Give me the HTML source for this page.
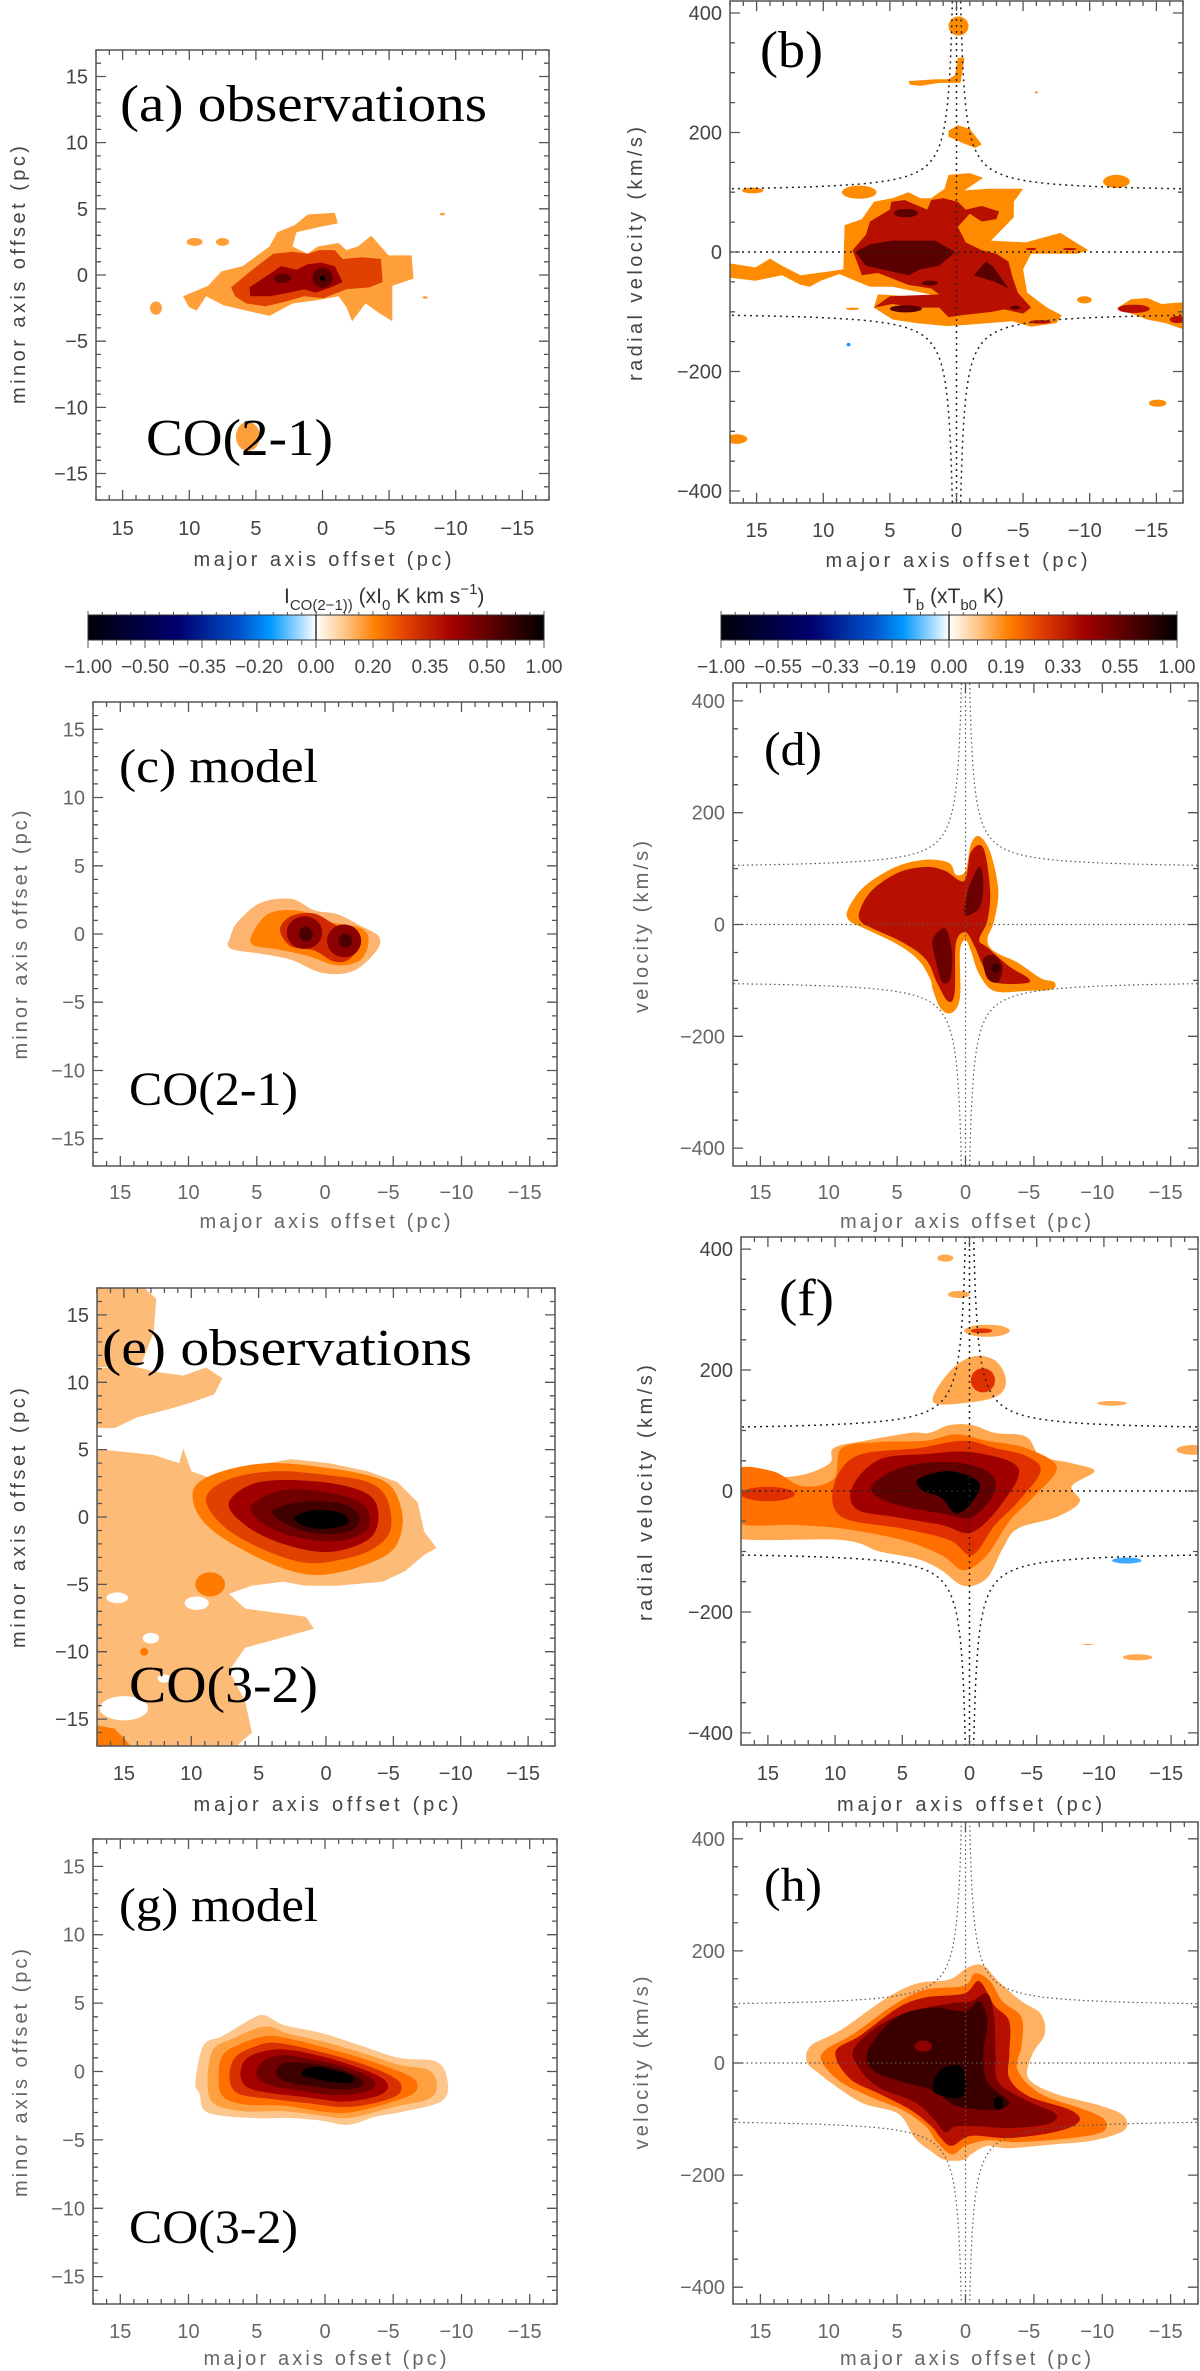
<!DOCTYPE html>
<html><head><meta charset="utf-8"><style>
html,body{margin:0;padding:0;background:#fff;}
svg{display:block;}
text{font-family:"Liberation Sans",sans-serif;}
.ser{font-family:"Liberation Serif",serif;fill:#000;}
</style></head><body>
<svg id="fig" xmlns="http://www.w3.org/2000/svg" width="1200" height="2371" viewBox="0 0 1200 2371">
<defs>
<linearGradient id="cbg" x1="0" x2="1" y1="0" y2="0">
<stop offset="0" stop-color="#000008"/><stop offset="0.2" stop-color="#000070"/><stop offset="0.33" stop-color="#0050c8"/><stop offset="0.4" stop-color="#0098ff"/><stop offset="0.5" stop-color="#ffffff"/><stop offset="0.56" stop-color="#ffc88c"/><stop offset="0.63" stop-color="#ff8000"/><stop offset="0.7" stop-color="#e04000"/><stop offset="0.8" stop-color="#a00000"/><stop offset="0.9" stop-color="#500000"/><stop offset="1" stop-color="#000000"/>
</linearGradient>
</defs>
</svg>
<script>
// ---------- DATA ----------
const xTicks = [15,10,5,0,-5,-10,-15];
const posTicks = [15,10,5,0,-5,-10,-15];
const velTicks = [400,200,0,-200,-400];
const cbLabelsLeft = ["\u22121.00","\u22120.50","\u22120.35","\u22120.20","0.00","0.20","0.35","0.50","1.00"];
const cbLabelsRight = ["\u22121.00","\u22120.55","\u22120.33","\u22120.19","0.00","0.19","0.33","0.55","1.00"];
const guideAsym = 100; // km/s
const guideK = 100;

// panel (a)
const aL1 = [[10.46,-1.61],[8.59,-0.81],[7.58,0.27],[5.99,0.67],[3.98,2.15],[3.40,3.23],[2.10,3.76],[1.10,4.57],[-0.92,4.70],[-1.15,3.90],[0.23,3.63],[1.96,3.23],[2.25,2.15],[1.10,1.61],[0.37,2.15],[-1.21,2.42],[-1.79,1.88],[-2.65,2.15],[-3.66,2.96],[-4.96,1.48],[-6.69,1.48],[-6.83,-0.27],[-5.24,-0.81],[-5.24,-3.49],[-4.38,-2.96],[-3.23,-2.15],[-2.22,-3.49],[-1.79,-2.42],[-1.21,-1.61],[0.23,-1.88],[2.25,-2.15],[3.98,-3.09],[5.71,-2.69],[7.44,-2.28],[8.73,-1.61],[9.45,-2.69],[10.03,-2.42]];
const aL1Blobs = [[9.6,2.5,0.6,0.3],[7.5,2.5,0.5,0.3],[12.5,-2.5,0.45,0.5],[5.6,-12.2,0.9,1.1],[-9.0,4.6,0.2,0.1],[-7.7,-1.7,0.2,0.1]];
const aL2 = [[6.86,-0.94],[5.42,0.27],[3.69,1.61],[2.25,1.75],[1.10,1.61],[0.23,1.88],[-0.92,1.88],[-1.50,1.21],[-2.94,1.34],[-4.38,1.21],[-4.52,-0.54],[-3.52,-0.94],[-1.79,-1.08],[-0.06,-1.75],[1.38,-1.61],[2.82,-2.02],[4.27,-2.37],[5.71,-2.15],[6.57,-1.61]];
const aL3 = [[5.48,-0.94],[4.27,-0.13],[3.11,0.67],[1.96,0.40],[1.10,0.81],[0.09,0.94],[-0.92,0.67],[-1.50,-0.54],[-0.63,-0.94],[0.52,-1.34],[1.38,-1.08],[2.54,-1.34],[3.98,-1.61],[5.42,-1.61]];
const aL4Blobs = [[3.0,-0.25,0.65,0.35],[0.0,-0.2,0.75,0.75]];
const aL5Blobs = [[0.0,-0.25,0.2,0.2]];

// panel (b)
const bL1 = [[17,-19],[15.1,-26],[14.0,-11],[13.1,-23],[11.7,-39],[9.4,-32],[8.5,-29],[8.4,45],[7.1,55],[6.2,84],[4.8,90],[3.6,100],[2.7,90],[1.9,90],[0.9,106],[0.6,129],[-1.0,132],[-2.0,124],[-0.6,103],[-2.4,106],[-5.0,106],[-4.3,84],[-4.3,58],[-2.6,19],[-5.2,16],[-7.8,32],[-9.9,3],[-9.1,-3],[-5.6,-3],[-5.0,-29],[-5.3,-68],[-6.8,-93],[-7.9,-106],[-7.5,-119],[-5.6,-125],[-4.2,-116],[-0.7,-122],[0.7,-124],[3.0,-119],[4.8,-113],[6.2,-93],[5.9,-71],[3.6,-74],[1.3,-74],[4.8,-58],[6.5,-58],[8.8,-37],[10.2,-48],[11.0,-58],[11.7,-55],[13.1,-39],[15.1,-48],[17,-43]];
const bL1Poly1 = [[0.6,203],[-0.1,212],[-1.0,206],[-1.9,180],[-1.4,174],[-0.4,183],[0.6,193]];
const bL1Poly2 = [[3.6,286],[1.6,289],[0.6,289],[0.1,296],[-0.1,325],[-0.6,325],[-0.4,296],[-0.3,283],[1.3,283],[2.7,278],[3.5,280]];
const bL1Poly3 = [[-12.1,-93],[-13.1,-79],[-14.3,-77],[-15.4,-87],[-17,-84],[-17,-129],[-15.7,-119],[-14.3,-113],[-13.1,-103]];
const bL1Blobs = [[15.3,103,0.8,5],[7.3,100,1.3,11],[-0.15,378,0.75,16],[-12.0,118,1.0,11],[-9.6,-80,0.55,6],[-15.1,-253,0.65,6],[16.5,-313,0.8,8],[7.8,-95,0.5,2],[-6.0,267,0.1,2]];
const bL2 = [[7.8,3],[6.8,29],[6.5,51],[5.0,71],[4.9,84],[3.9,87],[2.2,71],[1.9,87],[1.0,90],[-0.1,84],[-0.7,71],[-1.9,77],[-3.2,68],[-3.0,55],[-1.9,51],[-1.0,64],[-0.1,42],[-0.7,16],[-1.9,3],[-3.0,-3],[-3.9,-16],[-4.2,-42],[-4.6,-68],[-5.6,-93],[-5.0,-103],[-3.6,-96],[-2.7,-100],[-0.4,-106],[0.6,-109],[1.3,-93],[3.0,-93],[4.8,-87],[6.2,-93],[5.0,-74],[1.3,-71],[1.9,-61],[3.6,-55],[5.9,-35],[7.1,-39]];
const bL2Blobs = [[-13.3,-95,1.2,7],[-16.6,-113,0.6,6],[-6.3,-117,0.8,3],[-8.5,5,0.5,2],[-5.6,5,0.4,2]];
const bL3 = [[7.6,0],[6.5,13],[4.8,19],[1.6,19],[0.1,0],[1.3,-23],[2.7,-29],[3.6,-39],[5.0,-32],[6.8,-23]];
const bL3Poly = [[-2.2,-16],[-2.7,-23],[-3.3,-42],[-3.9,-61],[-3.0,-51],[-1.3,-39]];
const bL3Blobs = [[3.8,65,0.9,7],[3.8,-95,1.2,6],[2.0,-52,0.6,4],[-4.4,-93,0.4,3]];
const bBlue = [[8.1,-155,0.15,3]];

// panel (c)
const cL1 = [[6.94,-0.22],[6.38,0.90],[4.70,2.29],[2.46,2.57],[0.78,1.73],[-0.90,1.45],[-2.57,0.62],[-3.97,-0.22],[-3.69,-1.34],[-2.01,-2.74],[0.22,-2.85],[2.46,-1.90],[4.70,-1.45],[6.94,-1.06]];
const cL2 = [[5.3,0.06],[4.1,1.5],[1.9,1.7],[-0.3,0.9],[-2.6,0.45],[-3.2,-0.5],[-2.6,-1.9],[-0.9,-2.3],[1.3,-1.6],[3.6,-1.1],[5.3,-0.8]];
const cL3 = [[3.3,0.3],[2.5,1.3],[0.8,1.5],[-0.9,0.6],[-2.3,0.2],[-2.6,-0.8],[-1.7,-1.9],[-0.6,-2.0],[0.8,-1.2],[2.5,-0.9]];
const cL4Blobs = [[1.5,0.1,1.3,1.2],[-1.4,-0.5,1.25,1.2]];
const cL5Blobs = [[1.4,0.0,0.5,0.55],[-1.5,-0.5,0.5,0.5]];

// panel (d)
const dL1 = [[8.6,27],[7.4,68],[5.1,103],[2.9,116],[1.2,110],[0.7,89],[0,96],[-0.4,144],[-1.0,158],[-1.8,130],[-2.4,62],[-2.1,7],[-1.6,-27],[-2.1,-48],[-3.8,-68],[-5.5,-96],[-6.5,-103],[-6.3,-116],[-4.4,-119],[-2.1,-119],[-1.0,-89],[-0.4,-48],[0,-27],[0.4,-48],[0.4,-130],[1.0,-158],[1.8,-151],[2.4,-116],[2.6,-96],[3.5,-62],[5.1,-34],[7.4,-7],[8.5,7]];
const dL2 = [[7.7,27],[6.8,62],[4.9,93],[2.9,103],[1.5,96],[0.1,78],[-0.4,130],[-1.3,137],[-1.8,62],[-1.6,7],[-1.0,-27],[-1.6,-41],[-3.2,-75],[-4.6,-96],[-4.4,-105],[-2.1,-103],[-1.3,-75],[-0.7,-41],[0,-14],[0.7,-34],[0.8,-123],[1.3,-137],[2.1,-103],[2.9,-62],[4.6,-32],[6.8,-7],[7.7,7]];
const dL3a = [[0.1,21],[-0.2,62],[-1.0,103],[-1.3,75],[-1.1,34],[-0.4,18]];
const dL3b = [[2.4,-27],[1.5,-7],[1.0,-48],[1.1,-96],[1.7,-103],[2.2,-62]];
const dL3c = [[-1.3,-62],[-2.1,-55],[-2.7,-75],[-2.4,-103],[-1.6,-96]];
const dL4Blobs = [[-2.2,-78,0.35,8]];

// panel (e)
const eL1a = [[16.8,17.5],[14.0,17.5],[12.6,16.2],[12.8,13.7],[13.7,11.4],[16.8,11.1],[17.5,11.1],[17.5,17.5]];
const eL1b = [[17.5,10.8],[15.1,11.4],[12.8,10.8],[10.6,10.5],[8.9,11.1],[7.7,10.3],[8.3,9.1],[10.0,8.5],[11.7,8.0],[14.0,7.4],[15.7,6.6],[17.5,6.6]];
const eL1c = [[17.5,5.1],[12.8,4.6],[10.9,4.0],[10.6,5.1],[10.0,3.4],[8.3,2.8],[6.0,3.7],[2.6,4.3],[-0.2,4.0],[-3.1,3.4],[-5.3,2.6],[-6.8,1.1],[-7.3,-1.1],[-8.2,-2.3],[-7.3,-2.8],[-5.9,-4.0],[-4.2,-4.8],[-0.8,-5.1],[1.5,-5.1],[3.2,-4.8],[5.5,-5.1],[7.2,-5.7],[6.0,-6.8],[1.5,-7.4],[0.9,-8.3],[3.8,-9.1],[6.0,-9.7],[7.2,-11.4],[6.0,-13.7],[5.5,-16.0],[7.2,-17.5],[17.5,-17.5]];
const eHoles = [[15.5,-6.0,0.8,0.4],[9.6,-6.4,0.9,0.5],[15.0,-14.2,1.8,0.9],[13.0,-9.0,0.6,0.4],[12.0,-12.0,0.5,0.3]];
const eL2 = [[9.7,2.3],[7.7,3.4],[4.3,4.0],[0.3,3.7],[-3.1,3.1],[-4.8,2.3],[-5.6,0.6],[-5.6,-1.1],[-4.8,-2.6],[-2.5,-3.7],[0.3,-4.3],[2.6,-4.0],[5.5,-2.8],[8.3,-1.1],[9.7,0.6]];
const eL2Blobs = [[8.6,-5.0,1.1,0.9],[13.5,-10.0,0.3,0.3]];
const eL2Corner = [[17.5,-15.4],[15.7,-15.7],[14.0,-17.5],[17.5,-17.5]];
const eL3 = [[8.9,1.4],[7.2,2.8],[3.8,3.4],[-0.2,3.1],[-3.1,2.6],[-4.5,1.4],[-4.8,-0.9],[-3.6,-2.3],[-1.4,-3.1],[1.5,-3.4],[4.9,-2.3],[7.7,-0.6]];
const eL4 = [[7.2,1.1],[4.9,2.6],[0.3,2.6],[-3.1,1.7],[-3.9,0],[-3.1,-1.7],[-0.2,-2.6],[3.2,-2.0],[6.0,-0.6]];
const eL5 = [[5.5,0.9],[3.2,2.0],[-0.2,1.8],[-2.8,0.9],[-3.1,-0.9],[-0.8,-1.8],[2.6,-1.4],[4.9,-0.3]];
const eL6 = [[4.0,0.3],[2.0,1.1],[-1.1,1.0],[-2.5,0],[-1.6,-1.1],[1.5,-1.1]];
const eL7 = [[2.3,0],[0.9,0.5],[-1.1,0.3],[-1.6,-0.5],[0.3,-0.9],[1.8,-0.6]];

// panel (f)
const fL1 = [[17.5,-37],[17.5,8],[15.3,20],[12.4,27],[10.4,46],[10.1,71],[7.8,83],[4.4,96],[3.0,96],[1.5,109],[-0.2,109],[-1.9,96],[-4.2,90],[-5.3,58],[-7.6,46],[-9.3,33],[-7.6,8],[-8.2,-18],[-6.5,-43],[-3.6,-62],[-2.5,-94],[-1.3,-144],[0.4,-157],[2.1,-131],[3.8,-113],[6.7,-100],[9.5,-81],[17.5,-78]];
const fL2 = [[17.5,33],[14.7,33],[12.4,8],[10.1,20],[9.5,71],[6.7,81],[3.3,83],[1.0,94],[-1.3,83],[-4.2,71],[-6.5,39],[-4.7,-11],[-3.0,-49],[-1.3,-106],[0.4,-131],[2.1,-106],[5.0,-81],[9.5,-62],[13.0,-56],[17.5,-49]];
const fL3 = [[10.1,8],[8.4,58],[3.8,71],[0.4,83],[-1.9,71],[-4.2,58],[-5.3,33],[-3.6,-18],[-1.9,-56],[-0.2,-106],[1.5,-81],[5.0,-62],[9.5,-43]];
const fL3Blobs = [[15.0,-5,2.0,12],[-0.9,265,0.8,4],[-1.0,183,0.9,20]];
const fL4 = [[8.7,8],[6.7,52],[3.3,61],[-0.2,64],[-3.6,39],[-2.5,-18],[-0.2,-68],[2.1,-56],[5.5,-43],[8.4,-30]];
const fL5 = [[7.3,8],[5.0,39],[1.5,48],[-1.3,33],[-1.9,1],[-0.2,-43],[2.1,-37],[6.1,-18]];
const fL6 = [[3.8,20],[1.5,33],[-0.7,14],[-0.2,-18],[1.0,-37],[2.1,-11],[3.5,1]];
const fL1Poly = [[2.7,147],[1.5,197],[-0.2,222],[-1.9,216],[-2.7,185],[-2.2,159],[-0.2,147]];
const fL1Blobs = [[1.8,385,0.6,6],[0.8,325,0.8,6],[-1.3,265,1.7,10],[-10.6,145,1.1,4],[-16.6,68,1.2,8],[-12.5,-275,1.1,5],[-8.8,-254,0.4,1]];
const fBlue = [[-11.7,-115,1.1,5]];

// panel (g)
const gLevels = [
 [[9.5,-0.8],[8.9,1.9],[7.5,2.6],[5.3,3.9],[4.4,4.1],[3.0,3.4],[0.2,2.8],[-2.6,1.9],[-5.4,1.0],[-8.2,0.7],[-9.0,-0.8],[-8.5,-2.2],[-5.4,-3.0],[-3.7,-3.3],[-1.7,-3.9],[0.2,-3.6],[2.5,-3.4],[5.3,-3.4],[8.6,-3.0],[9.2,-1.6]],
 [[8.6,-0.6],[8.2,1.6],[6.8,2.4],[4.4,3.3],[2.8,2.8],[0.2,2.2],[-2.6,1.4],[-5.4,0.5],[-7.6,0.1],[-8.2,-1.0],[-7.6,-2.0],[-5.0,-2.6],[-1.8,-3.4],[0.4,-3.2],[3.0,-2.9],[6.0,-2.9],[8.2,-2.3]],
 [[7.8,-0.5],[7.5,1.2],[6.0,2.1],[4.2,2.6],[2.6,2.4],[0.2,1.8],[-2.6,1.0],[-5.2,0.1],[-6.6,-0.6],[-6.6,-1.5],[-5.0,-2.2],[-1.8,-3.0],[0.4,-2.9],[3.0,-2.5],[6.0,-2.4],[7.5,-1.8]],
 [[7.0,-0.4],[6.6,1.0],[5.2,1.8],[3.6,2.1],[0.2,1.4],[-2.6,0.6],[-4.8,-0.3],[-5.6,-1.0],[-5.2,-1.8],[-3.2,-2.4],[-1.2,-2.6],[1.4,-2.3],[4.0,-2.0],[6.4,-1.6]],
 [[6.2,-0.3],[5.8,0.9],[4.4,1.5],[2.8,1.6],[0.2,1.1],[-2.4,0.3],[-4.2,-0.5],[-4.6,-1.2],[-3.8,-1.8],[-1.4,-2.2],[1.2,-1.9],[3.8,-1.6],[5.6,-1.2]],
 [[5.0,-0.3],[4.6,0.7],[3.2,1.2],[1.0,0.9],[-1.6,0.3],[-3.4,-0.5],[-3.6,-1.2],[-2.4,-1.6],[-0.4,-1.7],[1.8,-1.4],[4.0,-1.0]],
 [[3.6,-0.2],[3.0,0.6],[1.2,0.6],[-1.0,0.2],[-2.6,-0.5],[-2.6,-1.1],[-1.2,-1.3],[0.8,-1.1],[2.6,-0.8]],
 [[1.6,0.1],[0.6,0.35],[-0.6,0.1],[-1.9,-0.3],[-2.0,-0.8],[-0.6,-0.8],[0.8,-0.5],[1.6,-0.3]]
];

// panel (h)
const hL1 = [[11.6,2],[11.3,31],[9.1,59],[5.7,117],[3.5,142],[1.2,149],[-0.2,171],[-1.3,174],[-2.4,146],[-4.1,110],[-5.5,88],[-5.8,52],[-4.9,16],[-4.6,-27],[-6.6,-55],[-10.0,-77],[-11.6,-95],[-11.6,-120],[-9.4,-138],[-6.6,-145],[-3.2,-152],[-1.6,-148],[-0.4,-163],[0.1,-173],[1.5,-173],[2.6,-156],[3.7,-134],[4.9,-91],[7.4,-73],[9.1,-48],[10.7,-19]];
const hL2 = [[10.5,2],[10.2,24],[8.2,52],[5.1,106],[2.9,131],[0.1,138],[-0.7,160],[-1.8,146],[-2.7,110],[-4.1,81],[-4.1,31],[-3.8,-12],[-5.5,-55],[-8.8,-84],[-10.2,-102],[-10.0,-123],[-7.7,-134],[-3.8,-141],[-1.6,-138],[0,-148],[1.0,-163],[2.1,-141],[2.9,-113],[4.6,-84],[6.8,-62],[9.1,-34]];
const hL3 = [[9.5,20],[7.7,49],[4.9,99],[2.9,117],[0.1,124],[-1.0,146],[-2.1,103],[-3.2,74],[-3.2,16],[-3.2,-27],[-4.6,-59],[-7.7,-84],[-8.3,-105],[-6.6,-123],[-3.2,-134],[-0.4,-130],[1.0,-148],[1.8,-134],[2.5,-113],[4.0,-84],[6.3,-55],[8.5,-27]];
const hL4 = [[8.2,24],[6.3,67],[4.0,92],[1.2,106],[-0.4,110],[-1.6,124],[-2.1,81],[-2.2,16],[-2.4,-34],[-4.4,-66],[-6.6,-91],[-6.0,-109],[-3.2,-116],[-1.0,-113],[0.7,-113],[1.5,-123],[2.4,-98],[3.7,-70],[6.3,-44],[7.7,-12]];
const hL5 = [[7.1,24],[5.1,81],[2.4,99],[0.1,92],[-1.0,110],[-1.6,74],[-1.3,16],[-1.6,-34],[-3.2,-70],[-2.1,-84],[0.1,-80],[1.2,-70],[2.4,-48],[4.6,-34],[6.8,-12]];
const hL6 = [[2.4,-48],[1.8,-12],[0.4,-5],[0,-34],[0.2,-59],[1.2,-62]];
const hL6Blobs = [[-2.4,-72,0.35,12]];
const hRedPatch = [[3.1,30,0.65,10]];

// ---------- RENDER ----------
const NS = "http://www.w3.org/2000/svg";
const svg = document.getElementById('fig');
function mk(tag, attrs, parent){
  const e = document.createElementNS(NS, tag);
  for (const k in attrs) e.setAttribute(k, attrs[k]);
  (parent||svg).appendChild(e);
  return e;
}
function makePanel(id, fx0, fy0, fx1, fy1, ymin, ymax){
  const p = {id, fx0, fy0, fx1, fy1, ymin, ymax};
  p.sx = v => fx0 + (17 - v) / 34 * (fx1 - fx0);
  p.sy = v => fy0 + (ymax - v) / (ymax - ymin) * (fy1 - fy0);
  const cp = mk('clipPath', {id: 'clip-' + id});
  mk('rect', {x: fx0, y: fy0, width: fx1 - fx0, height: fy1 - fy0}, cp);
  p.g = mk('g', {'clip-path': 'url(#clip-' + id + ')'});
  
  
  return p;
}
function polyPath(p, pts, smooth){
  const P = pts.map(q => [p.sx(q[0]), p.sy(q[1])]);
  if (!smooth) return 'M' + P.map(q => q[0].toFixed(1) + ',' + q[1].toFixed(1)).join('L') + 'Z';
  const n = P.length; let d = 'M' + P[0][0].toFixed(1) + ',' + P[0][1].toFixed(1);
  for (let i = 0; i < n; i++){
    const p0 = P[(i-1+n)%n], p1 = P[i], p2 = P[(i+1)%n], p3 = P[(i+2)%n];
    const c1 = [p1[0] + (p2[0]-p0[0])/6, p1[1] + (p2[1]-p0[1])/6];
    const c2 = [p2[0] - (p3[0]-p1[0])/6, p2[1] - (p3[1]-p1[1])/6];
    d += 'C' + c1.map(v=>v.toFixed(1)).join(',') + ' ' + c2.map(v=>v.toFixed(1)).join(',') + ' ' + p2.map(v=>v.toFixed(1)).join(',');
  }
  return d + 'Z';
}
function contour(p, pts, color, name, smooth){
  const e = mk('path', {d: polyPath(p, pts, smooth), fill: color}, p.g);
  
  
}
function blobs(p, arr, color, name){
  arr.forEach(b => {
    const e = mk('ellipse', {cx: p.sx(b[0]), cy: p.sy(b[1]), rx: Math.abs(p.sx(b[2]) - p.sx(0)), ry: Math.abs(p.sy(b[3]) - p.sy(0)), fill: color}, p.g);
    
    
  });
}
function guides(p, color, width, dash){
  let d1 = '', d2 = '', d3 = '', d4 = '';
  const xs = [];
  for (let i = 0; i <= 400; i++) xs.push(0.2 * Math.pow(85, i/400));
  xs.forEach((x, i) => {
    const v = guideAsym + guideK / x;
    d1 += (i ? 'L' : 'M') + p.sx(x).toFixed(1) + ',' + p.sy(v).toFixed(1);
    d2 += (i ? 'L' : 'M') + p.sx(-x).toFixed(1) + ',' + p.sy(v).toFixed(1);
    d3 += (i ? 'L' : 'M') + p.sx(x).toFixed(1) + ',' + p.sy(-v).toFixed(1);
    d4 += (i ? 'L' : 'M') + p.sx(-x).toFixed(1) + ',' + p.sy(-v).toFixed(1);
  });
  [d1, d2, d3, d4].forEach(d => {
    const e = mk('path', {d, fill: 'none', stroke: color, 'stroke-width': width, 'stroke-dasharray': dash}, p.g);
    
    
  });
  const h = mk('line', {x1: p.fx0, x2: p.fx1, y1: p.sy(0), y2: p.sy(0), stroke: color, 'stroke-width': width, 'stroke-dasharray': dash}, p.g);
  
  
  const v = mk('line', {x1: p.sx(0), x2: p.sx(0), y1: p.fy0, y2: p.fy1, stroke: color, 'stroke-width': width, 'stroke-dasharray': dash}, p.g);
  
  
}
function axes(p, vel, o){
  const g = mk('g', {});
  
  
  const fr = mk('rect', {x: p.fx0, y: p.fy0, width: p.fx1 - p.fx0, height: p.fy1 - p.fy0, fill: 'none', stroke: '#555', 'stroke-width': 1.5}, g);
  
  
  let d = '';
  for (let x = -17; x <= 17; x++){
    const L = (x % 5 === 0) ? 10 : 5, X = p.sx(x).toFixed(1);
    d += `M${X},${p.fy1}v${-L}M${X},${p.fy0}v${L}`;
  }
  if (vel){
    for (let v = -400; v <= 400; v += 50){
      const L = (v % 200 === 0) ? 10 : 5, Y = p.sy(v).toFixed(1);
      d += `M${p.fx0},${Y}h${L}M${p.fx1},${Y}h${-L}`;
    }
  } else {
    for (let y = -17; y <= 17; y++){
      const L = (y % 5 === 0) ? 10 : 5, Y = p.sy(y).toFixed(1);
      d += `M${p.fx0},${Y}h${L}M${p.fx1},${Y}h${-L}`;
    }
  }
  const t = mk('path', {d, stroke: '#555', 'stroke-width': 1.3, fill: 'none'}, g);
  
  
  xTicks.forEach(v => {
    const e = mk('text', {x: p.sx(v) - (v < 0 ? 5 : 0), y: o.xlabY, 'text-anchor': 'middle', 'font-size': 20, fill: o.lc}, g);
    e.textContent = v < 0 ? '\u2212' + (-v) : String(v);
    
    
  });
  (vel ? velTicks : posTicks).forEach(v => {
    if (p.sy(v) < 8) return;
    const e = mk('text', {x: p.fx0 - 8, y: p.sy(v) + 7, 'text-anchor': 'end', 'font-size': 20, fill: o.lc}, g);
    e.textContent = v < 0 ? '\u2212' + (-v) : String(v);
    
    
  });
  const xt = mk('text', {x: (p.fx0 + p.fx1)/2, y: o.xtY, 'text-anchor': 'middle', 'font-size': 20, fill: o.lc, textLength: o.xtL, lengthAdjust: 'spacing'}, g);
  xt.textContent = o.xt;
  
  
  const yt = mk('text', {x: 0, y: 0, 'text-anchor': 'middle', 'font-size': 20, fill: o.lc, textLength: o.ytL, lengthAdjust: 'spacing', transform: `translate(${o.ytX},${o.ytC}) rotate(-90)`}, g);
  yt.textContent = o.yt;
  
  
}
function label(txt, x, y, len, size, name){
  const e = mk('text', {x, y, class: 'ser', 'font-size': size, textLength: len, lengthAdjust: 'spacingAndGlyphs'});
  e.textContent = txt;
  
  
}

// Panel a
const pa = makePanel('a', 96, 50, 549, 500, -17, 17);
contour(pa, aL1, '#ff9f3a', 'contour-level-1');
blobs(pa, aL1Blobs, '#ff9f3a', 'contour-level-1-island');
contour(pa, aL2, '#e04000', 'contour-level-2');
contour(pa, aL3, '#9b0000', 'contour-level-3');
blobs(pa, aL4Blobs, '#580000', 'contour-level-4');
blobs(pa, aL5Blobs, '#000000', 'contour-level-5');
axes(pa, false, {lc:'#444', xlabY:535, xtY:566, xtL:258, xt:'major axis offset (pc)', ytX:25, ytC:275, ytL:258, yt:'minor axis offset (pc)'});
label('(a) observations', 120, 121, 367, 52, 'panel-a-title');
label('CO(2-1)', 146, 455, 187, 52, 'panel-a-line-label');

// Panel b
const pb = makePanel('b', 730, 1, 1183, 503, -420, 420);
contour(pb, bL1, '#ff8c00', 'contour-level-1');
contour(pb, bL1Poly1, '#ff8c00', 'contour-level-1-island');
contour(pb, bL1Poly2, '#ff8c00', 'contour-level-1-island');
contour(pb, bL1Poly3, '#ff8c00', 'contour-level-1-island');
blobs(pb, bL1Blobs, '#ff8c00', 'contour-level-1-island');
contour(pb, bL2, '#b81000', 'contour-level-2');
blobs(pb, bL2Blobs, '#b81000', 'contour-level-2-island');
contour(pb, bL3, '#5a0000', 'contour-level-3');
contour(pb, bL3Poly, '#5a0000', 'contour-level-3-island');
blobs(pb, bL3Blobs, '#5a0000', 'contour-level-3-island');
blobs(pb, bBlue, '#2090ff', 'negative-contour');
guides(pb, '#222', 1.5, '2 4');
axes(pb, true, {lc:'#444', xlabY:537, xtY:567, xtL:262, xt:'major axis offset (pc)', ytX:642, ytC:254, ytL:254, yt:'radial velocity (km/s)'});
label('(b)', 760, 67, 63, 52, 'panel-b-title');

// Colorbars
function colorbar(x0, x1, labels, name){
  const g = mk('g', {});
  
  
  const r = mk('rect', {x: x0, y: 615, width: x1 - x0, height: 25, fill: 'url(#cbg)', stroke: '#333', 'stroke-width': 1}, g);
  
  
  const c = mk('line', {x1: (x0+x1)/2, x2: (x0+x1)/2, y1: 615, y2: 640, stroke: '#000', 'stroke-width': 1.2}, g);
  
  
  let d = '';
  for (let i = 0; i <= 32; i++){ const X = (x0 + (x1-x0)*i/32).toFixed(1); d += `M${X},640v${i%4===0?8:5}M${X},615v${i%4===0?-4:-3}`; }
  const t = mk('path', {d, stroke: '#555', 'stroke-width': 1}, g);
  
  
  labels.forEach((s, i) => {
    const e = mk('text', {x: x0 + (x1-x0)*i/8, y: 673, 'text-anchor': 'middle', 'font-size': 19, fill: '#444'}, g);
    e.textContent = s;
    
    
  });
}
colorbar(88, 544, cbLabelsLeft, 'colorbar-intensity');
colorbar(721, 1177, cbLabelsRight, 'colorbar-brightness');
const cbt1 = mk('text', {x: 284, y: 603, 'font-size': 21, fill: '#333'});
cbt1.innerHTML = 'I<tspan font-size="15" dy="7">CO(2\u22121))</tspan><tspan dy="-7">  (xI</tspan><tspan font-size="15" dy="7">0</tspan><tspan dy="-7"> K  km  s</tspan><tspan font-size="15" dy="-9">\u22121</tspan><tspan dy="9">)</tspan>';


const cbt2 = mk('text', {x: 903, y: 603, 'font-size': 21, fill: '#333'});
cbt2.innerHTML = 'T<tspan font-size="15" dy="7">b</tspan><tspan dy="-7">  (xT</tspan><tspan font-size="15" dy="7">b0</tspan><tspan dy="-7"> K)</tspan>';



// Panel c
const pc = makePanel('c', 93, 702, 557, 1166, -17, 17);
contour(pc, cL1, '#fcb470', 'contour-level-1', true);
contour(pc, cL2, '#ff8000', 'contour-level-2', true);
contour(pc, cL3, '#d02800', 'contour-level-3', true);
blobs(pc, cL4Blobs, '#8b0000', 'contour-level-4');
blobs(pc, cL5Blobs, '#4a0000', 'contour-level-5');
axes(pc, false, {lc:'#666', xlabY:1199, xtY:1228, xtL:251, xt:'major axis offset (pc)', ytX:27, ytC:935, ytL:249, yt:'minor axis offset (pc)'});
label('(c) model', 119, 782, 199, 48, 'panel-c-title');
label('CO(2-1)', 129, 1105, 169, 48, 'panel-c-line-label');

// Panel d
const pd = makePanel('d', 733, 683, 1198, 1166, -432, 432);
contour(pd, dL1, '#ff8c00', 'contour-level-1', true);
contour(pd, dL2, '#b81000', 'contour-level-2', true);
contour(pd, dL3a, '#6a0000', 'contour-level-3', true);
contour(pd, dL3b, '#6a0000', 'contour-level-3', true);
contour(pd, dL3c, '#6a0000', 'contour-level-3', true);
blobs(pd, dL4Blobs, '#3a0000', 'contour-level-4');
guides(pd, '#555', 1.2, '1.5 3');
axes(pd, true, {lc:'#666', xlabY:1199, xtY:1228, xtL:251, xt:'major axis offset (pc)', ytX:648, ytC:927, ytL:172, yt:'velocity (km/s)'});
label('(d)', 764, 765, 58, 48, 'panel-d-title');

// Panel e
const pe = makePanel('e', 97, 1288, 555, 1746, -17, 17);
contour(pe, eL1a, '#fdbb78', 'contour-level-1');
contour(pe, eL1b, '#fdbb78', 'contour-level-1');
contour(pe, eL1c, '#fdbb78', 'contour-level-1');
blobs(pe, eHoles, '#ffffff', 'contour-hole');
contour(pe, eL2, '#ff7a00', 'contour-level-2', true);
blobs(pe, eL2Blobs, '#ff7a00', 'contour-level-2-island');
contour(pe, eL2Corner, '#ff7a00', 'contour-level-2-island');
contour(pe, eL3, '#e04000', 'contour-level-3', true);
contour(pe, eL4, '#a00000', 'contour-level-4', true);
contour(pe, eL5, '#700000', 'contour-level-5', true);
contour(pe, eL6, '#400000', 'contour-level-6', true);
contour(pe, eL7, '#000000', 'contour-level-7', true);
axes(pe, false, {lc:'#444', xlabY:1780, xtY:1811, xtL:265, xt:'major axis offset (pc)', ytX:25, ytC:1518, ytL:260, yt:'minor axis offset (pc)'});
label('(e) observations', 102, 1365, 370, 52, 'panel-e-title');
label('CO(3-2)', 129, 1702, 189, 52, 'panel-e-line-label');

// Panel f
const pf = makePanel('f', 741, 1237, 1198, 1745, -420, 420);
contour(pf, fL1, '#ffa850', 'contour-level-1', true);
contour(pf, fL1Poly, '#ffa850', 'contour-level-1-island', true);
blobs(pf, fL1Blobs, '#ffa850', 'contour-level-1-island');
contour(pf, fL2, '#ff7000', 'contour-level-2', true);
contour(pf, fL3, '#e03000', 'contour-level-3', true);
blobs(pf, fL3Blobs, '#e03000', 'contour-level-3-island');
contour(pf, fL4, '#a00000', 'contour-level-4', true);
contour(pf, fL5, '#600000', 'contour-level-5', true);
contour(pf, fL6, '#000000', 'contour-level-6', true);
blobs(pf, fBlue, '#40a8ff', 'negative-contour');
guides(pf, '#222', 1.5, '2 4');
axes(pf, true, {lc:'#444', xlabY:1780, xtY:1811, xtL:265, xt:'major axis offset (pc)', ytX:652, ytC:1493, ytL:256, yt:'radial velocity (km/s)'});
label('(f)', 779, 1315, 55, 52, 'panel-f-title');

// Panel g
const pg = makePanel('g', 93, 1839, 557, 2304, -17, 17);
const gColors = ['#fdc68c','#ffa040','#ff7000','#d83000','#a40000','#6e0000','#3c0000','#000000'];
gLevels.forEach((lv, i) => contour(pg, lv, gColors[i], 'contour-level-' + (i+1), true));
axes(pg, false, {lc:'#666', xlabY:2338, xtY:2365, xtL:243, xt:'major axis ofset (pc)', ytX:27, ytC:2073, ytL:248, yt:'minor axis offset (pc)'});
label('(g) model', 119, 1921, 199, 48, 'panel-g-title');
label('CO(3-2)', 129, 2243, 169, 48, 'panel-g-line-label');

// Panel h
const ph = makePanel('h', 733, 1822, 1198, 2304, -430, 430);
contour(ph, hL1, '#ffb060', 'contour-level-1', true);
contour(ph, hL2, '#ff7000', 'contour-level-2', true);
contour(ph, hL3, '#b81000', 'contour-level-3', true);
contour(ph, hL4, '#7a0000', 'contour-level-4', true);
contour(ph, hL5, '#3a0000', 'contour-level-5', true);
blobs(ph, hRedPatch, '#8b0000', 'contour-level-4-island');
contour(ph, hL6, '#000000', 'contour-level-6', true);
blobs(ph, hL6Blobs, '#000000', 'contour-level-6');
guides(ph, '#555', 1.2, '1.5 3');
axes(ph, true, {lc:'#666', xlabY:2338, xtY:2365, xtL:251, xt:'major axis offset (pc)', ytX:648, ytC:2063, ytL:173, yt:'velocity (km/s)'});
label('(h)', 764, 1901, 58, 48, 'panel-h-title');
</script>
</body></html>
